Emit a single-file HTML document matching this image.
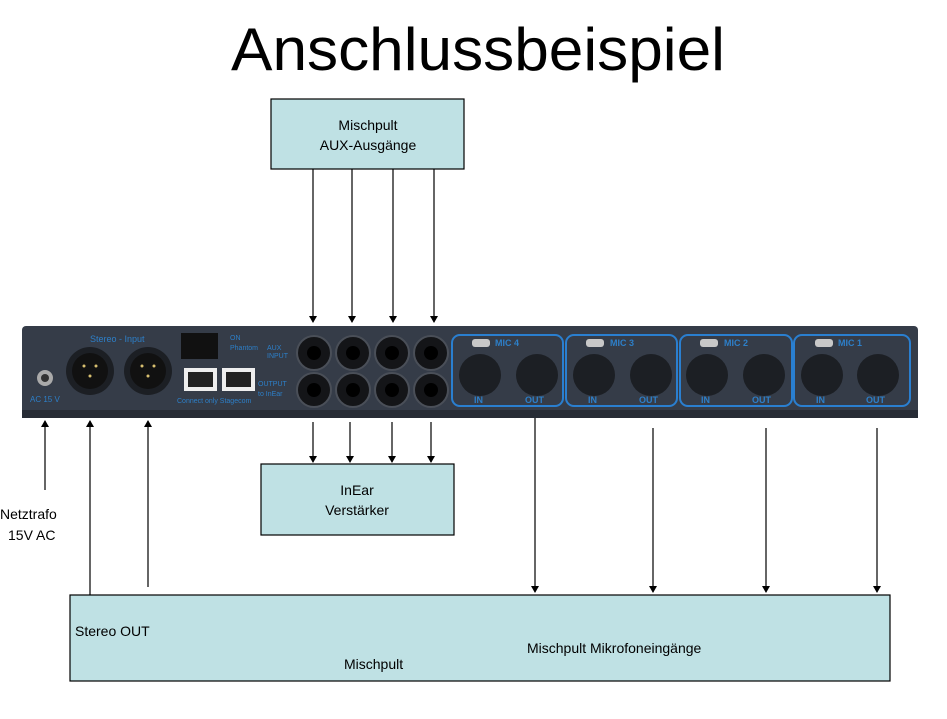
<!DOCTYPE html>
<html><head><meta charset="utf-8"><style>
html,body{margin:0;padding:0;background:#fff;}
svg{display:block;font-family:"Liberation Sans",Arial,sans-serif;}
</style></head><body>
<svg width="947" height="719" viewBox="0 0 947 719" xmlns="http://www.w3.org/2000/svg">
<defs>
<marker id="a" markerWidth="8" markerHeight="8" refX="6" refY="4" orient="auto" markerUnits="userSpaceOnUse">
<path d="M0,0 L7,4 L0,8 Z" fill="#000"/></marker>
</defs>
<text x="478" y="70" font-size="60" text-anchor="middle" textLength="494" lengthAdjust="spacingAndGlyphs">Anschlussbeispiel</text>

<rect x="271" y="99" width="193" height="70" fill="#bfe1e4" stroke="#000" stroke-width="1.2"/>
<text x="368" y="130" font-size="14" text-anchor="middle">Mischpult</text>
<text x="368" y="150" font-size="14" text-anchor="middle">AUX-Ausgänge</text>

<rect x="261" y="464" width="193" height="71" fill="#bfe1e4" stroke="#000" stroke-width="1.2"/>
<text x="357" y="495" font-size="14" text-anchor="middle">InEar</text>
<text x="357" y="515" font-size="14" text-anchor="middle">Verstärker</text>

<rect x="70" y="595" width="820" height="86" fill="#bfe1e4" stroke="#000" stroke-width="1.2"/>
<text x="75" y="636" font-size="14">Stereo OUT</text>
<text x="344" y="669" font-size="14">Mischpult</text>
<text x="527" y="653" font-size="14">Mischpult Mikrofoneingänge</text>

<text x="0" y="519" font-size="14">Netztrafo</text>
<text x="8" y="540" font-size="14">15V AC</text>

<!-- device panel -->
<rect x="14" y="323" width="910" height="97" fill="#fff"/>
<rect x="22" y="326" width="896" height="92" rx="4" fill="#353c48"/>
<rect x="22" y="410" width="896" height="8" fill="#272c35"/>
<text x="90" y="342" font-size="9" fill="#2d7fc8">Stereo - Input</text>
<text x="30" y="402" font-size="8" fill="#2d7fc8">AC 15 V</text>
<circle cx="45" cy="378" r="8" fill="#aaa"/><circle cx="45" cy="378" r="4" fill="#333"/>
<circle cx="90" cy="371" r="24" fill="#1c1f24"/><circle cx="90" cy="371" r="18" fill="#111"/>
<circle cx="148" cy="371" r="24" fill="#1c1f24"/><circle cx="148" cy="371" r="18" fill="#111"/>
<g fill="#d8c070"><circle cx="84" cy="366" r="1.5"/><circle cx="96" cy="366" r="1.5"/><circle cx="90" cy="376" r="1.5"/>
<circle cx="142" cy="366" r="1.5"/><circle cx="154" cy="366" r="1.5"/><circle cx="148" cy="376" r="1.5"/></g>
<rect x="181" y="333" width="37" height="26" fill="#111"/>
<rect x="184" y="368" width="33" height="23" fill="#eee"/><rect x="188" y="372" width="25" height="15" fill="#222"/>
<rect x="222" y="368" width="33" height="23" fill="#eee"/><rect x="226" y="372" width="25" height="15" fill="#222"/>
<text x="177" y="403" font-size="7" fill="#2d7fc8">Connect only Stagecom</text>
<text x="230" y="340" font-size="7" fill="#2d7fc8">ON</text>
<text x="230" y="350" font-size="7" fill="#2d7fc8">Phantom</text>
<text x="267" y="350" font-size="7" fill="#2d7fc8">AUX</text>
<text x="267" y="358" font-size="7" fill="#2d7fc8">INPUT</text>
<text x="258" y="386" font-size="7" fill="#2d7fc8">OUTPUT</text>
<text x="258" y="396" font-size="7" fill="#2d7fc8">to  InEar</text>
<g fill="#141518" stroke="#4a4f58" stroke-width="2">
<circle cx="314" cy="353" r="17"/><circle cx="353" cy="353" r="17"/><circle cx="392" cy="353" r="17"/><circle cx="431" cy="353" r="17"/>
<circle cx="314" cy="390" r="17"/><circle cx="353" cy="390" r="17"/><circle cx="392" cy="390" r="17"/><circle cx="431" cy="390" r="17"/>
</g>
<g fill="#000">
<circle cx="314" cy="353" r="7"/><circle cx="353" cy="353" r="7"/><circle cx="392" cy="353" r="7"/><circle cx="431" cy="353" r="7"/>
<circle cx="314" cy="390" r="7"/><circle cx="353" cy="390" r="7"/><circle cx="392" cy="390" r="7"/><circle cx="431" cy="390" r="7"/>
</g>
<g fill="none" stroke="#2a7fd0" stroke-width="2">
<rect x="452" y="335" width="111" height="71" rx="8"/>
<rect x="566" y="335" width="111" height="71" rx="8"/>
<rect x="680" y="335" width="112" height="71" rx="8"/>
<rect x="794" y="335" width="116" height="71" rx="8"/>
</g>
<g fill="#1c1f24">
<circle cx="480" cy="375" r="21"/><circle cx="537" cy="375" r="21"/>
<circle cx="594" cy="375" r="21"/><circle cx="651" cy="375" r="21"/>
<circle cx="707" cy="375" r="21"/><circle cx="764" cy="375" r="21"/>
<circle cx="822" cy="375" r="21"/><circle cx="878" cy="375" r="21"/>
</g>
<g fill="#c8c8c8">
<rect x="472" y="339" width="18" height="8" rx="3"/><rect x="586" y="339" width="18" height="8" rx="3"/>
<rect x="700" y="339" width="18" height="8" rx="3"/><rect x="815" y="339" width="18" height="8" rx="3"/>
</g>
<g fill="#2d7fc8" font-size="9" font-weight="bold">
<text x="495" y="346">MIC 4</text><text x="610" y="346">MIC 3</text><text x="724" y="346">MIC 2</text><text x="838" y="346">MIC 1</text>
<text x="474" y="403">IN</text><text x="525" y="403">OUT</text>
<text x="588" y="403">IN</text><text x="639" y="403">OUT</text>
<text x="701" y="403">IN</text><text x="752" y="403">OUT</text>
<text x="816" y="403">IN</text><text x="866" y="403">OUT</text>
</g>

<g stroke="#000" stroke-width="1.2" marker-end="url(#a)">
<line x1="313" y1="169" x2="313" y2="322"/>
<line x1="352" y1="169" x2="352" y2="322"/>
<line x1="393" y1="169" x2="393" y2="322"/>
<line x1="434" y1="169" x2="434" y2="322"/>
<line x1="313" y1="422" x2="313" y2="462"/>
<line x1="350" y1="422" x2="350" y2="462"/>
<line x1="392" y1="422" x2="392" y2="462"/>
<line x1="431" y1="422" x2="431" y2="462"/>
<line x1="535" y1="418" x2="535" y2="592"/>
<line x1="653" y1="428" x2="653" y2="592"/>
<line x1="766" y1="428" x2="766" y2="592"/>
<line x1="877" y1="428" x2="877" y2="592"/>
<line x1="45" y1="490" x2="45" y2="421"/>
<line x1="90" y1="595" x2="90" y2="421"/>
<line x1="148" y1="587" x2="148" y2="421"/>
</g>
</svg>
</body></html>
